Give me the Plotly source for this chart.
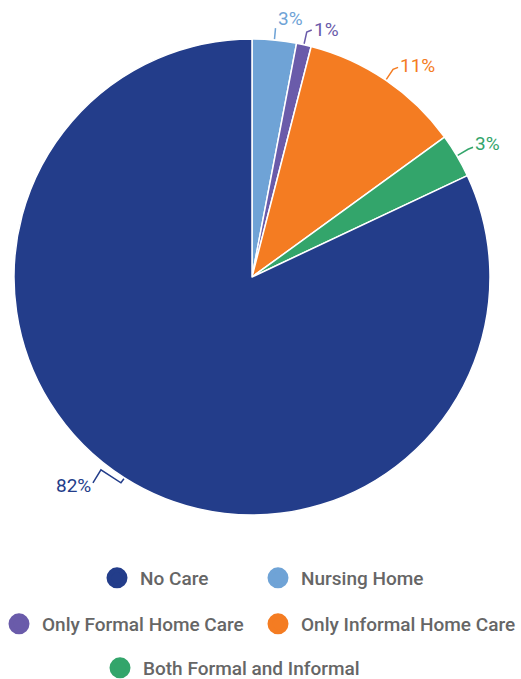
import math
import plotly.graph_objects as go

# ---- data ----
categories = ["Nursing Home", "Only Formal Home Care", "Only Informal Home Care",
              "Both Formal and Informal", "No Care"]
values = [3, 1, 11, 3, 82]
colors = ["#6FA3D6", "#6A5BAA", "#F47C22", "#33A56B", "#233D8A"]
legend_order = ["No Care", "Nursing Home", "Only Formal Home Care",
                "Only Informal Home Care", "Both Formal and Informal"]

# ---- layout constants (pixels, in window coordinates) ----
W, H = 521, 679
CX, CY, R = 252, 277, 238
FONT = "Roboto, 'Noto Sans', sans-serif"


def px_x(x):
    return x / W


def px_y(y):
    return 1 - y / H


fig = go.Figure()
fig.add_trace(go.Pie(
    labels=categories, values=values, sort=False, direction="clockwise",
    rotation=0, marker=dict(colors=colors, line=dict(color="white", width=1.5)),
    textinfo="none", hoverinfo="label+percent", showlegend=False,
    domain=dict(x=[px_x(CX - R), px_x(CX + R)], y=[px_y(CY + R), px_y(CY - R)]),
))

# outside labels with leader lines, positioned from the slice angles
total = sum(values)
cum = 0
shapes, annotations = [], []
for cat, v, c in zip(categories, values, colors):
    mid = (cum + v / 2) / total * 2 * math.pi
    cum += v
    s, co = math.sin(mid), math.cos(mid)
    p0 = (CX + (R + 1) * s, CY - (R + 1) * co)
    side = 1 if s >= 0 else -1
    if side > 0 and s < 0.14:
        # near 12 o'clock: short radial tick, label sits above it
        p1 = (CX + (R + 12) * s, CY - (R + 12) * co)
        pts = [p0, p1]
        tx, ty, xa = p1[0] + 1, p1[1] - 10, "left"
    elif side > 0:
        p1 = (CX + (R + 13) * s, CY - (R + 13) * co)
        p2 = (p1[0] + 5, p1[1] - 2)
        pts = [p0, p1, p2]
        tx, ty, xa = p2[0] + 1, p2[1] - 4 * s, "left"
    else:
        # zig-zag elbow towards the lower-left label
        pts = [p0, (p0[0] - 3, p0[1] + 4), (p0[0] - 23, p0[1] - 9), (p0[0] - 31, p0[1] + 4)]
        tx, ty, xa = pts[-1][0] - 1, pts[-1][1] + 3, "right"
    path = "M " + " L ".join("%f %f" % (px_x(x), px_y(y)) for x, y in pts)
    shapes.append(dict(type="path", path=path, xref="paper", yref="paper",
                       line=dict(color=c, width=1.5)))
    annotations.append(dict(
        x=px_x(tx), y=px_y(ty), xref="paper", yref="paper",
        text="%d%%" % round(v / total * 100), showarrow=False,
        xanchor=xa, yanchor="middle", borderpad=0,
        font=dict(family=FONT, size=19, color=c)))

# legend: one legend per entry, circle markers
legend_pos = {  # circle centre (px)
    "No Care": (117, 578),
    "Nursing Home": (278, 578),
    "Only Formal Home Care": (19, 624),
    "Only Informal Home Care": (278, 624),
    "Both Formal and Informal": (120, 668),
}
ITEMW = 36
SYM_X = 5 + ITEMW / 2  # symbol centre offset inside a legend entry
layout_legends = {}
for i, name in enumerate(legend_order):
    key = "legend" if i == 0 else "legend%d" % (i + 1)
    col = colors[categories.index(name)]
    fig.add_trace(go.Scatter(
        x=[None], y=[None], mode="markers", name=name, legend=key,
        marker=dict(size=16, color=col, symbol="circle", line=dict(color=col, width=5)),
        showlegend=True, hoverinfo="skip"))
    cxp, cyp = legend_pos[name]
    layout_legends[key] = dict(
        x=px_x(cxp - SYM_X), y=px_y(cyp), xanchor="left", yanchor="middle",
        orientation="h", itemwidth=ITEMW, bgcolor="rgba(0,0,0,0)",
        font=dict(family=FONT, size=19, weight=500, color="#666666"))

fig.update_layout(
    width=W, height=H, margin=dict(l=0, r=0, t=0, b=0, autoexpand=False),
    paper_bgcolor="white", plot_bgcolor="white",
    xaxis=dict(visible=False), yaxis=dict(visible=False),
    shapes=shapes, annotations=annotations, **layout_legends,
)

# remove the default page margin so the figure fills the window exactly
fig.write_html("out.html", config={"displayModeBar": False},
               post_script="document.body.style.margin='0';"
                           "document.body.style.overflow='hidden';")
